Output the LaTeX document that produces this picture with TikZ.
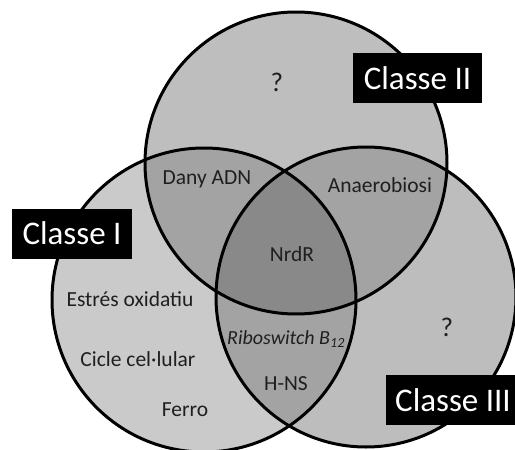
\documentclass[tikz,border=0pt]{standalone}
\usepackage{fontspec}
\setmainfont{Carlito}
\definecolor{cL}{HTML}{CACACA}
\definecolor{cT}{HTML}{BEBEBE}
\definecolor{cR}{HTML}{BDBDBD}
\definecolor{cD}{HTML}{A3A3A3}
\definecolor{cC}{HTML}{898989}
\tikzset{
  ring/.style={draw=black,line width=3pt},
  lab/.style={font=\fontsize{21.5}{24}\selectfont,text=black!88,inner sep=0pt},
  qmark/.style={font=\fontsize{27}{30}\selectfont,text=black!88,inner sep=0pt},
  cls/.style={fill=black,text=white,font=\fontsize{33}{36}\selectfont,inner sep=0pt,minimum height=50pt,text depth=0pt},
}
\begin{document}
\begin{tikzpicture}[x=1pt,y=-1pt]
\useasboundingbox (0,0) rectangle (515,450);
\coordinate (T) at (296,163);
\coordinate (L) at (204,300);
\coordinate (R) at (366,297);
\def\rT{151pt}\def\rL{152pt}\def\rR{150pt}
% base fills
\fill[cL] (L) circle[radius=\rL];
\fill[cT] (T) circle[radius=\rT];
\fill[cR] (R) circle[radius=\rR];
% pairwise overlaps
\begin{scope}
  \clip (L) circle[radius=\rL];
  \fill[cD] (T) circle[radius=\rT];
  \fill[cD] (R) circle[radius=\rR];
\end{scope}
\begin{scope}
  \clip (T) circle[radius=\rT];
  \fill[cD] (R) circle[radius=\rR];
\end{scope}
\begin{scope}
  \clip (L) circle[radius=\rL];
  \clip (T) circle[radius=\rT];
  \fill[cC] (R) circle[radius=\rR];
\end{scope}
% outlines
\draw[ring] (T) circle[radius=\rT];
\draw[ring] (L) circle[radius=\rL];
\draw[ring] (R) circle[radius=\rR];
% labels
\node[qmark] (q1) at (277,82) {?};
\node[lab] (dany) at (207,179) {Dany ADN};
\node[lab] (anae) at (380,185) {Anaerobiosi};
\node[lab] (nrdr) at (292,254) {NrdR};
\node[lab] (estr) at (130,299) {Estrés oxidatiu};
\node[lab,font=\fontsize{20}{22}\selectfont\itshape] (ribo) at (286,339) {Riboswitch B\textsubscript{12}};
\node[qmark] (q2) at (447,327) {?};
\node[lab] (cicle) at (138,359) {Cicle cel·lular};
\node[lab] (hns) at (286,384) {H-NS};
\node[lab] (ferro) at (185,410) {Ferro};
% class boxes
\node[cls,minimum width=129pt] (c2) at (417.5,78) {Classe II};
\node[cls,minimum width=120pt] (c1) at (72,233.5) {Classe I};
\node[cls,minimum width=135pt] (c3) at (453,400) {Classe III};
\end{tikzpicture}
\end{document}
